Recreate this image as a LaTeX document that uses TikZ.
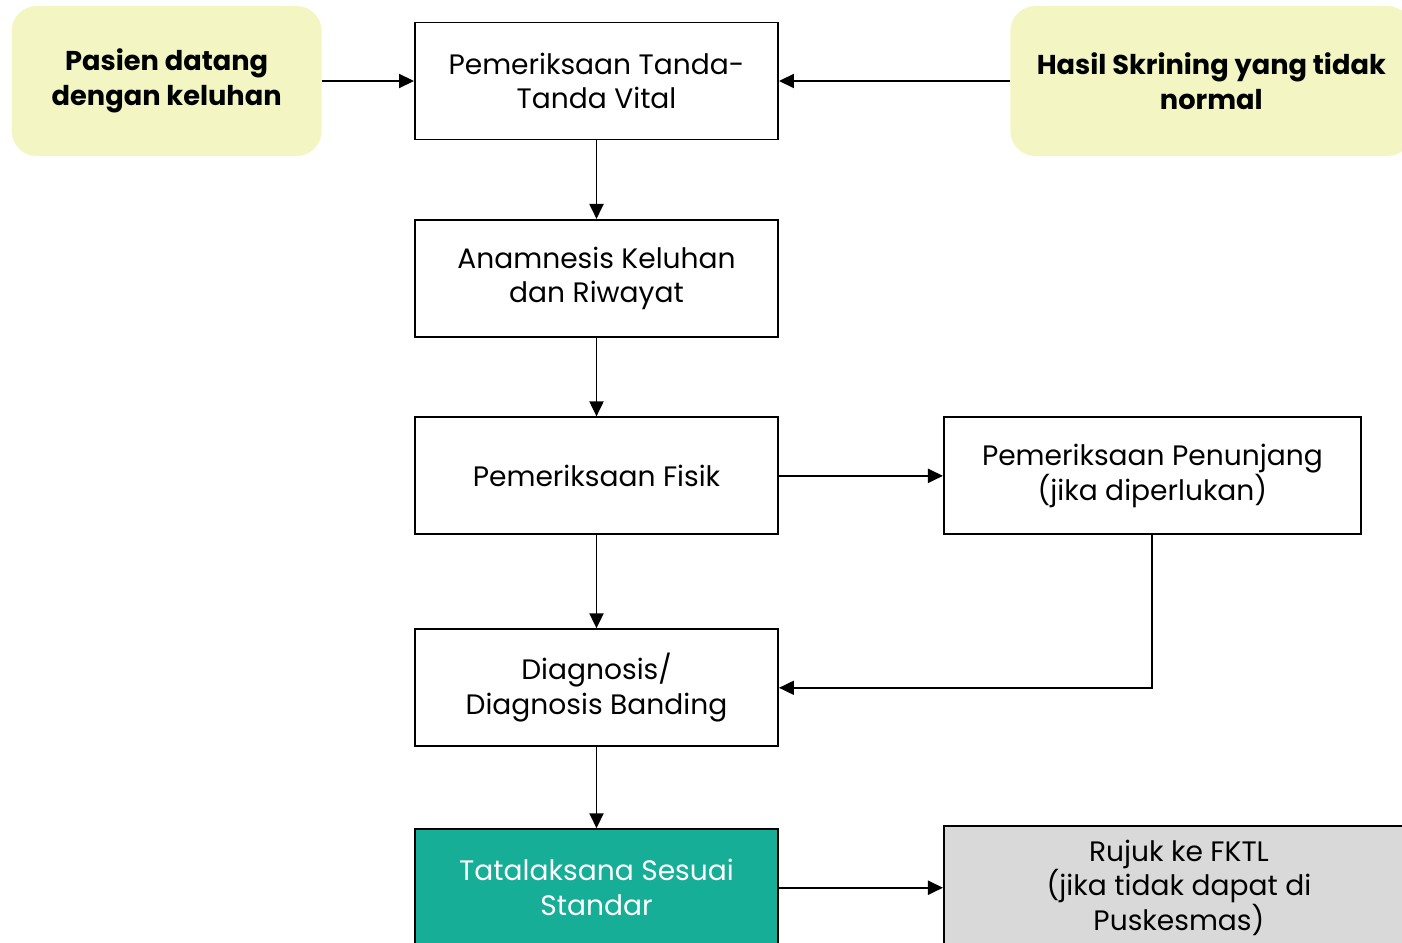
\documentclass[tikz,border=0pt]{standalone}
\usepackage{fontspec}
\setmainfont{Poppins}
\usepackage{xcolor}
\usetikzlibrary{arrows.meta, positioning}

\definecolor{softyellow}{RGB}{243,246,194}
\definecolor{tealfill}{RGB}{23,174,151}
\definecolor{greyfill}{RGB}{217,217,217}

\tikzset{
  stepbox/.style={draw, line width=1.1pt, minimum width=7.26cm, minimum height=2.34cm,
    align=center, font=\fontsize{16}{19.8}\selectfont},
  startbox/.style={fill=softyellow, rounded corners=0.5cm, minimum width=6.2cm,
    minimum height=3cm, align=center, font=\fontsize{15.5}{19.8}\selectfont\bfseries},
}

\begin{document}
\begin{tikzpicture}[>={Triangle[length=0.3cm, width=0.28cm]}, node distance=1.57cm]
\useasboundingbox (0,0) rectangle (28.04,-18.86);

% Main column
\node[stepbox] (vital) at (11.93,-1.62) {Pemeriksaan Tanda-\\Tanda Vital};
\node[stepbox, below=of vital] (anamnesis) {Anamnesis Keluhan\\dan Riwayat};
\node[stepbox, below=of anamnesis] (fisik) {Pemeriksaan Fisik};
\node[stepbox, below=1.86cm of fisik] (diagnosis) {Diagnosis/\\Diagnosis Banding};
\node[stepbox, fill=tealfill, text=white, below=1.62cm of diagnosis] (tatalaksana) {Tatalaksana Sesuai\\Standar};

% Entry points
\node[startbox, left=1.84cm of vital] (pasien) {Pasien datang\\dengan keluhan};
\node[startbox, minimum width=8.04cm, right=4.62cm of vital] (skrining) {Hasil Skrining yang tidak\\normal};

% Side boxes
\node[stepbox, minimum width=8.34cm, right=3.28cm of fisik] (penunjang) {Pemeriksaan Penunjang\\(jika diperlukan)};
\node[stepbox, fill=greyfill, minimum width=9.4cm, minimum height=2.46cm, right=3.28cm of tatalaksana] (rujuk) {Rujuk ke FKTL\\(jika tidak dapat di\\Puskesmas)};

% Arrows
\draw[->, line width=1.1pt] (pasien) -- (vital);
\draw[->, line width=1.1pt] (skrining) -- (vital);
\draw[->, line width=1.1pt] (vital) -- (anamnesis);
\draw[->, line width=1.1pt] (anamnesis) -- (fisik);
\draw[->, line width=1.1pt] (fisik) -- (penunjang);
\draw[->, line width=1.1pt] (fisik) -- (diagnosis);
\draw[->, line width=1.1pt] (penunjang.south) |- (diagnosis.east);
\draw[->, line width=1.1pt] (diagnosis) -- (tatalaksana);
\draw[->, line width=1.1pt] (tatalaksana) -- (rujuk);
\end{tikzpicture}
\end{document}
